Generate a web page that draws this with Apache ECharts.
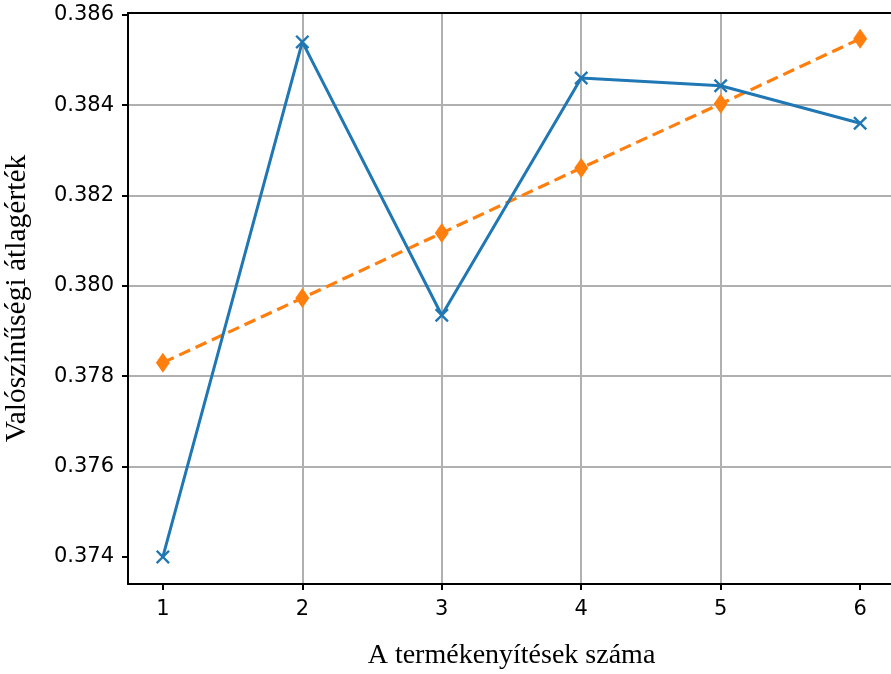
<!DOCTYPE html>
<html>
<head>
<meta charset="utf-8">
<script src="https://cdn.jsdelivr.net/npm/echarts@6/dist/echarts.min.js"></script>
<style>
  html, body { margin: 0; padding: 0; background: #fff; }
  #chart { width: 891px; height: 674px; }
</style>
</head>
<body>
<div id="chart"></div>
<script>
// adatok
const categories = [1, 2, 3, 4, 5, 6]
const blueValues = [0.3740, 0.38540, 0.37935, 0.38460, 0.38443, 0.38360]
const orangeValues = [0.37830, 0.37973, 0.38117, 0.38261, 0.38403, 0.38547]
const yTicks = [0.374, 0.376, 0.378, 0.380, 0.382, 0.384, 0.386]

const toPairs = (vals) => categories.map((c, i) => [c, vals[i]])

// matplotlib-szerű jelölők
const crossPath = 'path://M1.2,0 L5,3.8 L8.8,0 L10,1.2 L6.2,5 L10,8.8 L8.8,10 L5,6.2 L1.2,10 L0,8.8 L3.8,5 L0,1.2 Z'
const diamondPath = 'path://M5,0 L8.5,8 L5,16 L1.5,8 Z'

const chart = echarts.init(document.getElementById('chart'))
chart.setOption({
  animation: false,
  grid: {
    left: 128,
    right: -4,
    top: 13,
    bottom: 90,
    outerBoundsMode: 'none',
    containLabel: false,
  },
  xAxis: [
    {
      type: 'value',
      min: 0.75,
      max: 6.25,
      splitNumber: 5,
      name: 'A termékenyítések száma',
      nameLocation: 'middle',
      nameGap: 58,
      nameTextStyle: { fontFamily: 'Liberation Serif', fontSize: 28, color: '#000' },
      axisLine: { lineStyle: { color: '#000', width: 2 } },
      axisTick: { show: true, length: 6, lineStyle: { color: '#000', width: 2 }, customValues: categories },
      axisLabel: { fontFamily: 'DejaVu Sans', fontSize: 21, color: '#000', margin: 15, customValues: categories },
      splitLine: { show: true, showMinLine: false, showMaxLine: false, lineStyle: { color: '#b0b0b0', width: 2 } },
    },
    {
      // felső keretvonal
      type: 'value',
      position: 'top',
      min: 0.75,
      max: 6.25,
      axisLine: { show: true, lineStyle: { color: '#000', width: 2 } },
      axisTick: { show: false },
      axisLabel: { show: false },
      splitLine: { show: false },
    },
  ],
  yAxis: {
    type: 'value',
    min: 0.3734,
    max: 0.38604,
    splitNumber: 6,
    name: 'Valószínűségi átlagérték',
    nameLocation: 'middle',
    nameGap: 96,
    nameTextStyle: { fontFamily: 'Liberation Serif', fontSize: 29.5, color: '#000' },
    axisLine: { show: true, lineStyle: { color: '#000', width: 2 } },
    axisTick: { show: true, length: 6, lineStyle: { color: '#000', width: 2 }, customValues: yTicks },
    axisLabel: {
      fontFamily: 'DejaVu Sans',
      fontSize: 21,
      color: '#000',
      margin: 14,
      customValues: yTicks,
      formatter: (v) => v.toFixed(3),
    },
    splitLine: { show: true, showMinLine: false, showMaxLine: false, lineStyle: { color: '#b0b0b0', width: 2 } },
  },
  series: [
    {
      type: 'line',
      data: toPairs(blueValues),
      symbol: crossPath,
      symbolSize: 14,
      showAllSymbol: true,
      itemStyle: { color: '#1f77b4' },
      lineStyle: { color: '#1f77b4', width: 3 },
      z: 3,
    },
    {
      type: 'line',
      data: toPairs(orangeValues),
      symbol: diamondPath,
      symbolSize: [14, 20],
      showAllSymbol: true,
      itemStyle: { color: '#ff7f0e' },
      lineStyle: { color: '#ff7f0e', width: 3.2, type: [12, 6] },
      z: 2,
    },
  ],
})
</script>
</body>
</html>
